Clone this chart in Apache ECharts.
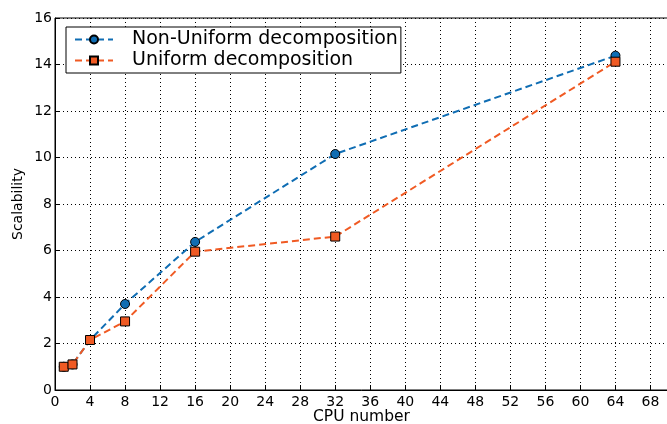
<!DOCTYPE html>
<html><head><meta charset="utf-8">
<script src="https://cdn.jsdelivr.net/npm/echarts@6/dist/echarts.min.js"></script>
<style>html,body{margin:0;padding:0;background:#fff}#c{width:667px;height:424px}</style>
</head><body><div id="c"></div>
<script>
const cpus = [1, 2, 4, 8, 16, 32, 64];
const nonUniform = [1.0, 1.1, 2.15, 3.7, 6.37, 10.15, 14.38];
const uniform = [1.0, 1.1, 2.15, 2.95, 5.95, 6.6, 14.12];
const seriesNames = ['Non-Uniform decomposition', 'Uniform decomposition'];
const colors = ['#0f6db3', '#f05a23'];

const chart = echarts.init(document.getElementById('c'));
const font = 'DejaVu Sans';
function mk(name, vals, color, symbol, size) {
  return {
    name, type: 'line', data: cpus.map((x, i) => [x, vals[i]]),
    symbol, symbolSize: size,
    lineStyle: { color, width: 2, type: [7, 4] },
    itemStyle: { color, borderColor: '#000', borderWidth: 1 },
    z: 3
  };
}
chart.setOption({
  animation: false,
  grid: { left: 55, top: 18, right: -1, bottom: 34, show: true, borderColor: '#000', borderWidth: 1,
          containLabel: false, outerBoundsMode: 'none' },
  legend: {
    orient: 'vertical', left: 66, top: 27, padding: [3, 3, 3, 8],
    borderColor: '#000', borderWidth: 1, backgroundColor: '#fff',
    itemWidth: 38, itemHeight: 10, itemGap: 2,
    textStyle: { fontFamily: font, fontSize: 19, color: '#000', padding: [0, 0, 0, 14] },
    data: seriesNames
  },
  xAxis: {
    type: 'value', min: 0, max: 70, interval: 4,
    name: 'CPU number', nameLocation: 'middle', nameGap: 19, nameMoveOverlap: false,
    nameTextStyle: { fontFamily: font, fontSize: 15.5, color: '#000', verticalAlign: 'top' },
    axisLine: { lineStyle: { color: '#000' } },
    axisTick: { inside: true, length: 5, lineStyle: { color: '#000' } },
    axisLabel: { fontFamily: font, fontSize: 14, color: '#000', margin: 5, showMaxLabel: false },
    splitLine: { show: true, lineStyle: { color: '#000', type: [1, 3], width: 1 } }
  },
  yAxis: {
    type: 'value', min: 0, max: 16, interval: 2,
    name: 'Scalability', nameLocation: 'middle', nameGap: 30, nameMoveOverlap: false,
    nameTextStyle: { fontFamily: font, fontSize: 14, color: '#000' },
    axisLine: { show: true, lineStyle: { color: '#000' } },
    axisTick: { show: true, inside: true, length: 5, lineStyle: { color: '#000' } },
    axisLabel: { fontFamily: font, fontSize: 14, color: '#000', margin: 3 },
    splitLine: { show: true, lineStyle: { color: '#000', type: [1, 3], width: 1 } }
  },
  series: [
    mk(seriesNames[0], nonUniform, colors[0], 'circle', 9),
    mk(seriesNames[1], uniform, colors[1], 'rect', 9)
  ]
});
</script></body></html>
